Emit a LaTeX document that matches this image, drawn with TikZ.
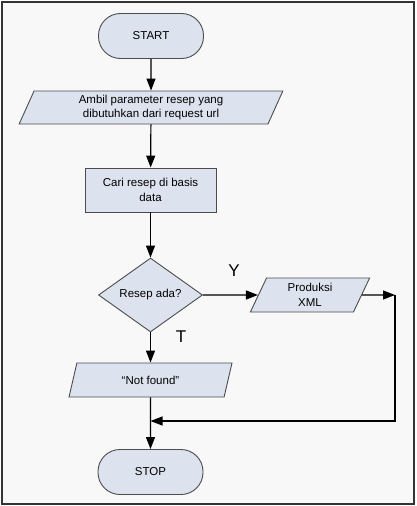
\documentclass[tikz,border=0pt]{standalone}
\usepackage{fontspec}
\setmainfont{Liberation Sans}
\usetikzlibrary{arrows.meta,shapes.geometric}
\definecolor{boxfill}{HTML}{DDE3EE}
\definecolor{pagefill}{HTML}{F8F8F8}

\begin{document}
\begin{tikzpicture}[x=1pt, y=-1pt,
    base/.style={draw=black!70, fill=boxfill, font=\fontsize{11.5}{14.5}\selectfont, align=center, inner sep=0pt, line width=0.9pt},
    term/.style={base, rectangle, rounded corners=22pt, minimum width=105pt, minimum height=45pt},
    proc/.style={base, rectangle, minimum width=131pt, minimum height=44pt},
    io/.style={base, trapezium, trapezium left angle=70, trapezium right angle=110, trapezium stretches=true},
    decide/.style={base, diamond, minimum width=104pt, minimum height=74pt},
    arr/.style={-{Triangle[length=12pt,width=9pt]}, line width=1.2pt},
    lbl/.style={font=\fontsize{17}{20}\selectfont}]
    \useasboundingbox (0,0) rectangle (416,506);
    \draw[line width=2pt, draw=black!80, fill=pagefill] (2,2) rectangle (414,504);
    % flow
    \node[term] (start) at (151,36) {START};
    \node[io, minimum width=264pt, minimum height=33pt] (param) at (151,107.5) {Ambil parameter resep yang\\dibutuhkan dari request url};
    \node[proc] (cari) at (150.5,190) {Cari resep di basis\\data};
    \node[decide] (ada) at (150.5,295) {Resep ada?};
    \node[io, minimum width=120pt, minimum height=34pt] (xml) at (310,295) {Produksi\\XML};
    \node[io, minimum width=163pt, minimum height=34pt] (notfound) at (150.5,380) {“Not found”};
    \node[term] (stop) at (150.5,472) {STOP};
    \node[lbl] (yes) at (234,271) {Y};
    \node[lbl] (no) at (181,337) {T};
    \coordinate (turn) at (395,295);
    \coordinate (join) at (150.5,421);
    % connectors
    \draw[arr] (start) -- (param);
    \draw[arr] (param) -- (cari);
    \draw[arr] (cari) -- (ada);
    \draw[arr] (ada) -- (xml);
    \draw[arr] (ada) -- (notfound);
    \draw[arr] (notfound) -- (stop);
    \draw[arr] (xml) -- (turn);
    \draw[arr] (turn) |- (join);
\end{tikzpicture}
\end{document}
